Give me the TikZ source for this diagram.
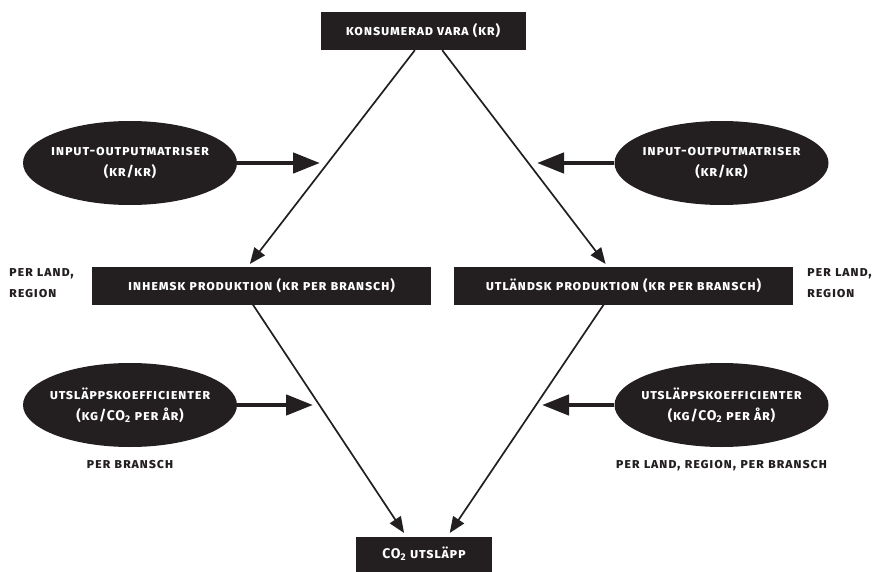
\documentclass[tikz,border=0pt]{standalone}
\usepackage{fontspec}
\setmainfont{Fira Sans}
\newfontfamily\diafont{Fira Sans}[Letters=SmallCaps,LetterSpace=5.5]
\usetikzlibrary{positioning}
\usetikzlibrary{shapes.geometric}
\usetikzlibrary{arrows.meta}
\definecolor{ink}{HTML}{231F20}
\tikzset{txt/.style={font=\diafont\bfseries\fontsize{14}{21}\selectfont}}
\tikzset{box/.style={txt,fill=ink,text=white,minimum height=38pt,inner sep=0pt}}
\tikzset{oval/.style={txt,ellipse,fill=ink,text=white,minimum width=214pt,minimum height=84pt,inner xsep=-15pt,inner ysep=0pt,align=center}}
\tikzset{lbl/.style={txt,text=ink,inner sep=0pt}}
\tikzset{flow/.style={ink,line width=1.7pt,-{Triangle[length=16pt,width=13pt]}}}
\tikzset{feed/.style={ink,line width=4.5pt,-{Triangle[length=27pt,width=20pt]}}}

\begin{document}
\begin{tikzpicture}[x=1pt, y=-1pt]
    \useasboundingbox (0,0) rectangle (875,572);
    \node[box, minimum width=205pt] (Kons) at (423,31) {konsumerad vara (kr)};
    \node[box, minimum width=339pt] (Inh) at (261.5,285.5) {inhemsk produktion (kr per bransch)};
    \node[box, minimum width=339pt] (Utl) at (623.5,285.5) {utländsk produktion (kr per bransch)};
    \node[box, minimum width=136pt, minimum height=35pt] (CO) at (424,554) {CO\textsubscript{2} utsläpp};
    \node[oval] (IOl) at (130,163) {input-outputmatriser\\(kr/kr)};
    \node[oval] (IOr) at (721.5,163) {input-outputmatriser\\(kr/kr)};
    \node[oval] (UKl) at (130,405) {utsläppskoefficienter\\(kg/CO\textsubscript{2} per år)};
    \node[oval] (UKr) at (721.5,405) {utsläppskoefficienter\\(kg/CO\textsubscript{2} per år)};
    \node[lbl, below=13pt of UKl] (PBl) {per bransch};
    \node[lbl, below=13pt of UKr] (PBr) {per land, region, per bransch};
    \node[lbl, align=left, anchor=west] (PLl) at (9,283) {per land,\\region};
    \node[lbl, align=left, anchor=west] (PLr) at (807,283) {per land,\\region};
    \coordinate (IOlT) at (320,163);
    \coordinate (IOrT) at (537,163);
    \coordinate (UKlT) at (313,405);
    \coordinate (UKrT) at (542,405);
    \draw[flow, shorten >=3pt] (Kons.247) -- (Inh.125);
    \draw[flow, shorten >=3pt] (Kons.315) -- (Utl.130);
    \draw[flow, shorten >=4pt] (Inh.246) -- (CO.135);
    \draw[flow, shorten >=4pt] (Utl.224) -- (CO.37);
    \draw[feed] (IOl.east) -- (IOlT);
    \draw[feed] (IOr.west) -- (IOrT);
    \draw[feed] (UKl.east) -- (UKlT);
    \draw[feed] (UKr.west) -- (UKrT);
\end{tikzpicture}
\end{document}
